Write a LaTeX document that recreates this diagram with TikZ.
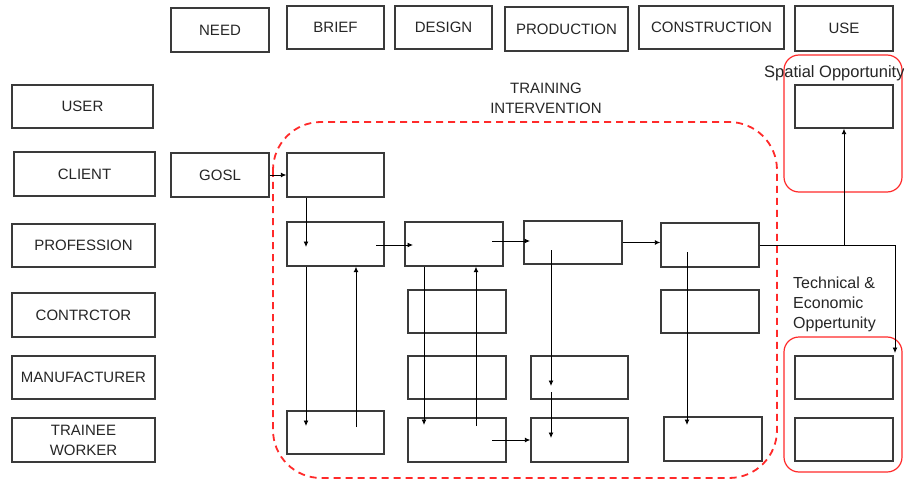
\documentclass[tikz,border=0pt]{standalone}
\usepackage{fontspec}
\setmainfont{Liberation Sans}
\usetikzlibrary{arrows.meta}
\definecolor{boxline}{HTML}{3A3A3A}
\definecolor{txt}{HTML}{262626}
\definecolor{redline}{HTML}{FF2A2A}
\begin{document}
\begin{tikzpicture}[x=1pt,y=-1pt,
  bx/.style={draw=boxline, line width=1.4pt, inner sep=0pt, text=txt, align=center,
    font=\fontsize{15}{17}\selectfont, minimum width=97pt, minimum height=43pt},
  arr/.style={draw=black, line width=0.9pt, -{Latex[length=5.5pt,width=5pt]}},
  reddash/.style={draw=redline, line width=1.8pt, dash pattern=on 7pt off 5pt, rounded corners=48pt},
  redsolid/.style={draw=redline, line width=1.2pt, rounded corners=15pt},
  lbl/.style={text=txt, inner sep=0pt}
]
\useasboundingbox (0,0) rectangle (904,481);
\fill[white] (0,0) rectangle (904,481);

% header row
\node[bx, minimum width=98pt, minimum height=44pt] (need) at (220,30) {NEED};
\node[bx] (brief) at (335.5,27.5) {BRIEF};
\node[bx] (design) at (443.5,27.5) {DESIGN};
\node[bx, minimum width=123pt, minimum height=44pt] (prod) at (566.5,29) {PRODUCTION};
\node[bx, minimum width=145pt] (constr) at (711.5,27.5) {CONSTRUCTION};
\node[bx, minimum width=98pt, minimum height=45pt] (use) at (844,28.5) {USE};

% left column
\node[bx, minimum width=141pt] (user) at (82.5,106.5) {USER};
\node[bx, minimum width=141pt, minimum height=44pt] (client) at (84.5,174) {CLIENT};
\node[bx, minimum width=143pt] (prof) at (83.5,245.5) {PROFESSION};
\node[bx, minimum width=143pt, minimum height=44pt] (contr) at (83.5,315) {CONTRCTOR};
\node[bx, minimum width=143pt] (manu) at (83.5,377.5) {MANUFACTURER};
\node[bx, minimum width=143pt, minimum height=44pt, font=\fontsize{15}{20}\selectfont] (trainee) at (83.5,440) {TRAINEE\\WORKER};

\node[bx, minimum width=98pt, minimum height=44pt] (gosl) at (220,175) {GOSL};

% grid boxes
\node[bx, minimum height=44pt] (c1r1) at (335.5,175) {};
\node[bx, minimum height=44pt] (c1r2) at (335.5,244) {};
\node[bx] (c1r6) at (335.5,432.5) {};
\node[bx, minimum width=98pt, minimum height=44pt] (c2r2) at (454,244) {};
\node[bx, minimum width=98pt] (c2r3) at (457,311.5) {};
\node[bx, minimum width=98pt] (c2r4) at (457,377.5) {};
\node[bx, minimum width=98pt, minimum height=44pt] (c2r6) at (457,440) {};
\node[bx, minimum width=98pt] (c3r2) at (573,242.5) {};
\node[bx] (c3r5) at (579.5,377.5) {};
\node[bx, minimum height=44pt] (c3r6) at (579.5,440) {};
\node[bx, minimum width=98pt, minimum height=44pt] (c4r2) at (710,245) {};
\node[bx, minimum width=98pt] (c4r3) at (710,311.5) {};
\node[bx, minimum width=98pt, minimum height=44pt] (c4r6) at (713,439) {};
\node[bx, minimum width=98pt] (sp) at (844,106.5) {};
\node[bx, minimum width=98pt] (te1) at (844,377.5) {};
\node[bx, minimum width=98pt] (te2) at (844,439.5) {};

% red frames
\draw[reddash] (273,122) rectangle (777,478);
\draw[redsolid] (784,55) rectangle (902,192);
\draw[redsolid] (784,337) rectangle (902,472);

% labels
\node[lbl, align=center, font=\fontsize{15}{20}\selectfont] (ti) at (546,98) {TRAINING\\INTERVENTION};
\node[lbl, anchor=base west, font=\fontsize{16.5}{20}\selectfont] (spl) at (764,78) {Spatial Opportunity};
\node[lbl, anchor=north west, align=left, font=\fontsize{16}{20}\selectfont] (tel) at (793,277) {Technical \&\\Economic\\Oppertunity};

% coordinates for free ends
\coordinate (a1) at (306,247);
\coordinate (a2) at (306,426);
\coordinate (b1) at (356,427);
\coordinate (h1s) at (376,245);
\coordinate (h1e) at (413,245);
\coordinate (h2s) at (492,241);
\coordinate (h2e) at (530,241);
\coordinate (a3) at (424,425);
\coordinate (b2) at (476,426);
\coordinate (d1s) at (551,250);
\coordinate (d1e) at (551,386);
\coordinate (d2s) at (551,392);
\coordinate (d2e) at (551,438);
\coordinate (h3s) at (492,440);
\coordinate (e1s) at (687,252);
\coordinate (e1e) at (687,425);
\coordinate (k1) at (895,245);
\coordinate (k2) at (895,353);
\coordinate (k3) at (844,245);

% connectors
\draw[arr] (gosl.east) -- (c1r1.west);
\draw[arr] (c1r1.south -| a1) -- (a1);
\draw[arr] (c1r2.south -| a2) -- (a2);
\draw[arr] (b1) -- (c1r2.south -| b1);
\draw[arr] (h1s) -- (h1e);
\draw[arr] (h2s) -- (h2e);
\draw[arr] (c3r2.east) -- (c3r2.east -| c4r2.west);
\draw[arr] (c2r2.south -| a3) -- (a3);
\draw[arr] (b2) -- (c2r2.south -| b2);
\draw[arr] (d1s) -- (d1e);
\draw[arr] (d2s) -- (d2e);
\draw[arr] (h3s) -- (h3s -| c3r6.west);
\draw[arr] (e1s) -- (e1e);
\draw[arr] (c4r2.east) -- (k1) -- (k2);
\draw[arr] (k3) -- (sp.south);
\end{tikzpicture}
\end{document}
